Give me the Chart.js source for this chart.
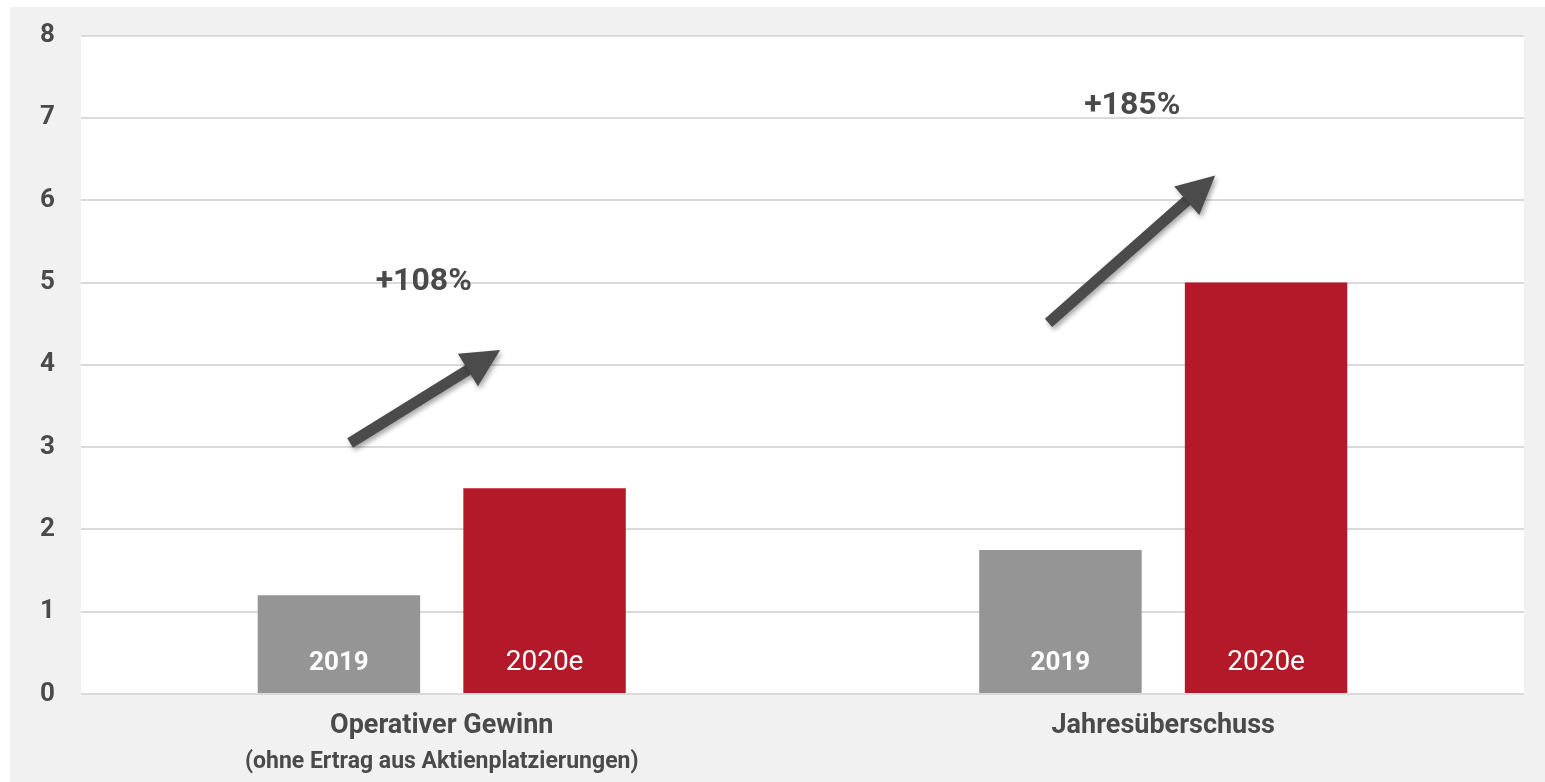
<!DOCTYPE html>
<html lang="de">
<head>
<meta charset="utf-8">
<script src="https://cdn.jsdelivr.net/npm/chart.js@4"></script>
<style>
    body { margin: 0; background: #ffffff; }
    #rahmen { position: absolute; left: 10px; top: 7px; width: 1535px; height: 775px; background: #f1f1f1; }
</style>
</head>
<body>
<div id="rahmen"><canvas id="gewinn"></canvas></div>
<script>
//---------------------------DONNEES---------------------------------
const kategorien = ['Operativer Gewinn', 'Jahresüberschuss'];
const untertitel = ['(ohne Ertrag aus Aktienplatzierungen)', ''];
const serien = ['2019', '2020e'];
const werte2019 = [1.2, 1.75];
const werte2020 = [2.5, 5.0];
const zuwachs = ['+108%', '+185%'];
const yMax = 8;

const dunkel = '#4a4a4a';
const schrift = 'Roboto, "DejaVu Sans", sans-serif';

//---------------------------FLECHES + TEXTES (en unités du graphique)---------------------------------
// x = index de catégorie (décalage), y = valeur
const pfeile = [
    { von: [-0.127, 3.05], nach: [0.081, 4.18], text: [-0.025, 5.01] },
    { von: [0.841, 4.51], nach: [1.072, 6.30], text: [0.957, 7.14] }
];

function pixelX(scale, v) {
    // interpolation entre deux catégories pour les décalages
    const p0 = scale.getPixelForValue(0);
    const p1 = scale.getPixelForValue(1);
    return p0 + (p1 - p0) * v;
}

const hintergrund = {
    id: 'hintergrund',
    beforeDraw(chart) {
        const { ctx, chartArea } = chart;
        ctx.save();
        ctx.fillStyle = '#ffffff';
        ctx.fillRect(chartArea.left, chartArea.top, chartArea.right - chartArea.left, chartArea.bottom - chartArea.top);
        ctx.restore();
    }
};

const beschriftung = {
    id: 'beschriftung',
    afterDraw(chart) {
        const { ctx, chartArea } = chart;
        const xs = chart.scales.x;
        const ys = chart.scales.y;
        ctx.save();

        // étiquettes dans les barres
        chart.data.datasets.forEach((ds, di) => {
            chart.getDatasetMeta(di).data.forEach(bar => {
                ctx.fillStyle = '#ffffff';
                ctx.font = (di === 0 ? 'bold 26px ' : '28px ') + schrift;
                ctx.textAlign = 'center';
                ctx.textBaseline = 'middle';
                ctx.fillText(ds.label, bar.x, bar.base - 30);
            });
        });

        // étiquettes de l'axe x
        kategorien.forEach((k, i) => {
            const x = xs.getPixelForValue(i);
            ctx.fillStyle = dunkel;
            ctx.textAlign = 'center';
            ctx.textBaseline = 'middle';
            ctx.font = 'bold 27px ' + schrift;
            ctx.fillText(k, x, chartArea.bottom + 32);
            if (untertitel[i]) {
                ctx.font = 'bold 23px ' + schrift;
                ctx.fillText(untertitel[i], x, chartArea.bottom + 68);
            }
        });

        // flèches
        pfeile.forEach((p, i) => {
            const x1 = pixelX(xs, p.von[0]), y1 = ys.getPixelForValue(p.von[1]);
            const x2 = pixelX(xs, p.nach[0]), y2 = ys.getPixelForValue(p.nach[1]);
            const w = Math.atan2(y2 - y1, x2 - x1);
            const kopf = 38, breite = 19;
            const bx = x2 - kopf * Math.cos(w), by = y2 - kopf * Math.sin(w);

            ctx.save();
            ctx.shadowColor = 'rgba(0,0,0,0.35)';
            ctx.shadowBlur = 5;
            ctx.shadowOffsetX = 2;
            ctx.shadowOffsetY = 3;
            ctx.strokeStyle = '#4b4b4b';
            ctx.fillStyle = '#4b4b4b';
            ctx.lineWidth = 11;
            ctx.beginPath();
            ctx.moveTo(x1, y1);
            ctx.lineTo(bx + 4 * Math.cos(w), by + 4 * Math.sin(w));
            ctx.stroke();
            ctx.beginPath();
            ctx.moveTo(x2, y2);
            ctx.lineTo(bx + breite * Math.sin(w), by - breite * Math.cos(w));
            ctx.lineTo(bx - breite * Math.sin(w), by + breite * Math.cos(w));
            ctx.closePath();
            ctx.fill();
            ctx.restore();

            ctx.fillStyle = dunkel;
            ctx.font = 'bold 32px ' + schrift;
            ctx.textAlign = 'center';
            ctx.textBaseline = 'middle';
            ctx.fillText(zuwachs[i], pixelX(xs, p.text[0]), ys.getPixelForValue(p.text[1]));
        });

        ctx.restore();
    }
};

//---------------------------GRAPHIQUE---------------------------------
new Chart(document.getElementById('gewinn').getContext('2d'), {
    type: 'bar',
    plugins: [hintergrund, beschriftung],
    data: {
        labels: kategorien,
        datasets: [
            { label: serien[0], data: werte2019, backgroundColor: '#959595', categoryPercentage: 0.57, barPercentage: 0.79 },
            { label: serien[1], data: werte2020, backgroundColor: '#b31928', categoryPercentage: 0.57, barPercentage: 0.79 }
        ]
    },
    options: {
        responsive: true,
        maintainAspectRatio: false,
        animation: false,
        layout: { padding: { left: 30, right: 21, top: 0, bottom: 0 } },
        scales: {
            x: {
                grid: { display: false },
                border: { display: false },
                ticks: { display: false },
                afterFit: scale => { scale.height = 88; }
            },
            y: {
                min: 0,
                max: yMax,
                grid: { color: '#dadada', lineWidth: 2, drawTicks: false },
                border: { display: false },
                ticks: {
                    stepSize: 1,
                    padding: 13,
                    crossAlign: 'far',
                    color: dunkel,
                    font: { family: schrift, size: 26, weight: 'bold' }
                },
                afterFit: scale => { scale.width = 41; }
            }
        },
        plugins: {
            legend: { display: false },
            tooltip: { enabled: false }
        }
    }
});
</script>
</body>
</html>
